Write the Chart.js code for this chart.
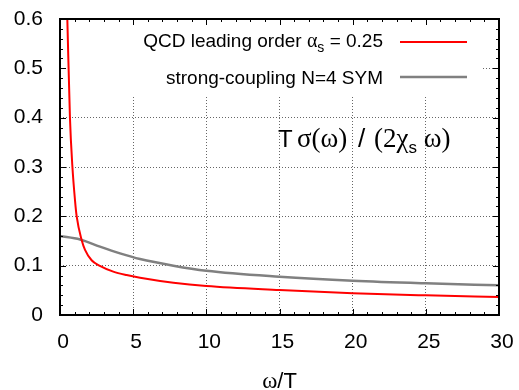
<!DOCTYPE html>
<html>
<head>
<meta charset="utf-8">
<script src="https://cdn.jsdelivr.net/npm/chart.js@4"></script>
<style>
  body { margin: 0; background: #fff; }
  canvas { display: block; }
</style>
</head>
<body>
<canvas id="chart" width="519" height="390"></canvas>
<script>
// QCD leading order, alpha_s = 0.25
const qcdOmega = [0.5, 0.68, 0.84, 1.03, 1.14, 1.48, 1.71, 2.16, 2.69, 3.64, 4.55, 5.47, 7.75, 10, 15, 20, 25, 30];
const qcdValue = [0.6, 0.4, 0.304, 0.231, 0.2, 0.152, 0.132, 0.111, 0.1, 0.088, 0.081, 0.0757, 0.0655, 0.0588, 0.0507, 0.0442, 0.0399, 0.0365];

// strong-coupling N=4 SYM
const symOmega = [0, 1.37, 2.73, 4.1, 5.47, 7.75, 10, 15, 20, 25, 30];
const symValue = [0.16, 0.153, 0.1385, 0.125, 0.1135, 0.1, 0.0898, 0.0777, 0.0695, 0.0642, 0.0602];

const xTicks = [0, 5, 10, 15, 20, 25, 30];
const yTicks = [0, 0.1, 0.2, 0.3, 0.4, 0.5, 0.6];
const yTickLabels = ['0', '0.1', '0.2', '0.3', '0.4', '0.5', '0.6'];

const SANS = '"Liberation Sans", Arial, sans-serif';
const SERIF = '"Liberation Serif", "Times New Roman", serif';

function toPoints(xs, ys) {
    return xs.map((x, i) => ({ x: x, y: ys[i] }));
}

// draw a row of text pieces with their own font and vertical shift
function runsWidth(ctx, runs) {
    let w = 0;
    runs.forEach(r => { ctx.font = r.font; w += ctx.measureText(r.t).width; });
    return w;
}
function drawRuns(ctx, x, y, runs) {
    ctx.textBaseline = 'alphabetic';
    ctx.textAlign = 'left';
    runs.forEach(r => {
        ctx.font = r.font;
        const px = r.x !== undefined ? r.x : x;
        ctx.fillText(r.t, px, y + (r.dy || 0));
        x = px + ctx.measureText(r.t).width;
    });
}

const frame = {
    id: 'frame',
    beforeDraw(chart) {
        const ctx = chart.ctx;
        ctx.save();
        ctx.fillStyle = '#fff';
        ctx.fillRect(0, 0, chart.width, chart.height);
        ctx.restore();
    },
    beforeDatasetsDraw(chart) {
        // key box hides the grid behind it
        const a = chart.chartArea;
        const ctx = chart.ctx;
        ctx.save();
        ctx.fillStyle = '#fff';
        ctx.fillRect(a.left, a.top, 483 - a.left, 95 - a.top);
        ctx.restore();
    },
    afterDraw(chart) {
        const ctx = chart.ctx;
        const a = chart.chartArea;
        const xs = chart.scales.x;
        const ys = chart.scales.y;
        ctx.save();

        // tick marks on all four sides
        ctx.strokeStyle = '#000';
        ctx.lineWidth = 1;
        ctx.beginPath();
        for (let i = 0; i <= 30; i++) {
            const px = Math.round(xs.getPixelForValue(i)) + 0.5;
            const len = i % 5 === 0 ? 6 : 3;
            ctx.moveTo(px, a.bottom); ctx.lineTo(px, a.bottom - len);
            ctx.moveTo(px, a.top); ctx.lineTo(px, a.top + len);
        }
        for (let i = 0; i <= 30; i++) {
            const py = Math.round(ys.getPixelForValue(i * 0.02)) + 0.5;
            const len = i % 5 === 0 ? 6 : 3;
            ctx.moveTo(a.left, py); ctx.lineTo(a.left + len, py);
            ctx.moveTo(a.right, py); ctx.lineTo(a.right - len, py);
        }
        ctx.stroke();

        // border
        ctx.lineWidth = 2;
        ctx.strokeRect(a.left, a.top, a.right - a.left, a.bottom - a.top);

        // key
        ctx.fillStyle = '#000';
        const row1 = [
            { t: 'QCD leading order ', font: '19px ' + SANS },
            { t: 'α', font: '20px ' + SERIF },
            { t: 's', font: '14px ' + SANS, dy: 5 },
            { t: ' = 0.25', font: '19px ' + SANS }
        ];
        const row2 = [{ t: 'strong-coupling N=4 SYM', font: '19px ' + SANS }];
        drawRuns(ctx, 383 - runsWidth(ctx, row1), 47, row1);
        drawRuns(ctx, 383 - runsWidth(ctx, row2), 83.5, row2);

        ctx.lineWidth = 2;
        ctx.strokeStyle = '#ff0000';
        ctx.beginPath(); ctx.moveTo(400, 42); ctx.lineTo(467, 42); ctx.stroke();
        ctx.lineWidth = 2.5;
        ctx.strokeStyle = '#808080';
        ctx.beginPath(); ctx.moveTo(400, 77); ctx.lineTo(467, 77); ctx.stroke();

        // label inside the plot
        drawRuns(ctx, 279, 147, [
            { t: 'T', font: '24px ' + SANS, x: 278 },
            { t: 'σ(ω)', font: '27px ' + SERIF, x: 297 },
            { t: '/', font: '26px ' + SANS, x: 358 },
            { t: '(2χ', font: '27px ' + SERIF, x: 374 },
            { t: 's', font: '17px ' + SANS, dy: 6 },
            { t: ' ω)', font: '27px ' + SERIF }
        ]);

        // x axis title
        const xt = [
            { t: 'ω', font: '23px ' + SERIF },
            { t: '/T', font: '22px ' + SANS }
        ];
        drawRuns(ctx, (a.left + a.right) / 2 - runsWidth(ctx, xt) / 2, 388, xt);

        ctx.restore();
    }
};

new Chart(document.getElementById('chart'), {
    type: 'line',
    data: {
        datasets: [
            {
                label: 'QCD leading order',
                data: toPoints(qcdOmega, qcdValue),
                borderColor: '#ff0000',
                borderWidth: 2,
                pointRadius: 0,
                cubicInterpolationMode: 'monotone',
                fill: false
            },
            {
                label: 'strong-coupling N=4 SYM',
                data: toPoints(symOmega, symValue),
                borderColor: '#808080',
                borderWidth: 2.5,
                pointRadius: 0,
                cubicInterpolationMode: 'monotone',
                fill: false
            }
        ]
    },
    options: {
        responsive: false,
        animation: false,
        events: [],
        layout: { padding: { top: 19, right: 20, left: 0, bottom: 0 } },
        plugins: {
            legend: { display: false },
            tooltip: { enabled: false }
        },
        scales: {
            x: {
                type: 'linear',
                min: 0,
                max: 30,
                afterFit: s => { s.height = 75; s.paddingLeft = 0; s.paddingRight = 0; },
                afterBuildTicks: s => { s.ticks = xTicks.map(v => ({ value: v })); },
                grid: { color: 'rgba(0,0,0,0.6)', lineWidth: 1, drawTicks: false },
                border: { display: false, dash: [1, 2] },
                ticks: {
                    color: '#000',
                    font: { family: SANS, size: 21 },
                    padding: 15,
                    labelOffset: 3,
                    maxRotation: 0
                }
            },
            y: {
                type: 'linear',
                min: 0,
                max: 0.6,
                afterFit: s => { s.width = 60; s.paddingTop = 0; s.paddingBottom = 0; },
                afterBuildTicks: s => { s.ticks = yTicks.map(v => ({ value: v })); },
                grid: { color: 'rgba(0,0,0,0.6)', lineWidth: 1, drawTicks: false },
                border: { display: false, dash: [1, 2] },
                ticks: {
                    color: '#000',
                    font: { family: SANS, size: 21 },
                    padding: 17,
                    callback: (v, i) => yTickLabels[i]
                }
            }
        }
    },
    plugins: [frame]
});
</script>
</body>
</html>
